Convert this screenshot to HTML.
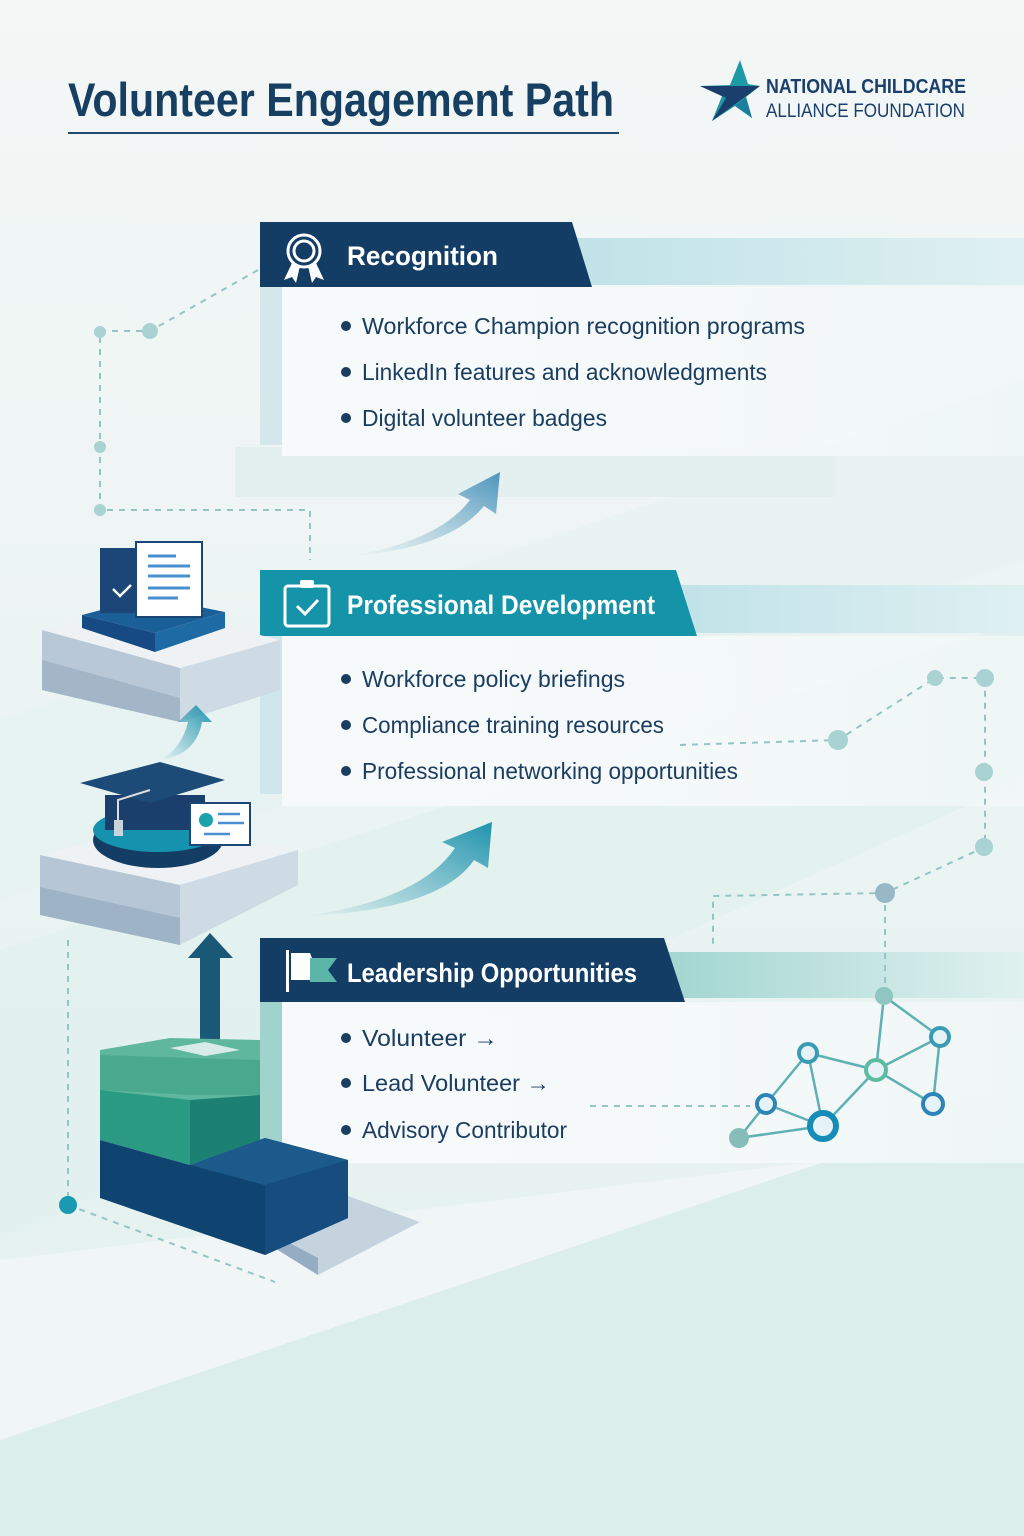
<!DOCTYPE html>
<html><head><meta charset="utf-8"><style>
html,body{margin:0;padding:0;width:1024px;height:1536px;overflow:hidden;background:#eef5f4}
svg{display:block}
text{font-family:"Liberation Sans",sans-serif}
</style></head><body>
<svg width="1024" height="1536" viewBox="0 0 1024 1536" xmlns="http://www.w3.org/2000/svg">
<defs>
<linearGradient id="bg" x1="0" y1="0" x2="0" y2="1"><stop offset="0" stop-color="#f3f7f6"/><stop offset="1" stop-color="#e3f1ef"/></linearGradient>
<linearGradient id="band" x1="0" y1="0" x2="1" y2="0"><stop offset="0" stop-color="#bfe2e8"/><stop offset="1" stop-color="#dff0f2"/></linearGradient>
<linearGradient id="band2" x1="0" y1="0" x2="1" y2="0"><stop offset="0" stop-color="#9ed4cf"/><stop offset="1" stop-color="#e0f1ef"/></linearGradient>
<linearGradient id="panel" x1="0" y1="0" x2="1" y2="0"><stop offset="0" stop-color="#f7fafa"/><stop offset="0.6" stop-color="#f5f9f9" stop-opacity="0.95"/><stop offset="1" stop-color="#f2f8f8" stop-opacity="0.7"/></linearGradient>
<linearGradient id="arr" x1="0" y1="1" x2="1" y2="0"><stop offset="0" stop-color="#7fb6cf" stop-opacity="0"/><stop offset="1" stop-color="#4f95bd"/></linearGradient>
<linearGradient id="arr2" x1="0" y1="1" x2="1" y2="0"><stop offset="0" stop-color="#3ba0b7" stop-opacity="0"/><stop offset="1" stop-color="#1f93ad"/></linearGradient>
</defs>
<rect width="1024" height="1536" fill="url(#bg)"/>
<polygon points="0,720 1024,380 1024,560 0,900" fill="#e6f2f1" opacity="0.7"/>
<polygon points="0,950 1024,620 1024,780 0,1240" fill="#dff0ee" opacity="0.7"/>
<polygon points="0,1260 830,1160 1024,1160 1024,1536 0,1536" fill="#f0f6f5"/>
<polygon points="0,1440 830,1160 1024,1160 1024,1536 0,1536" fill="#dbeeeb"/>

<text x="68" y="116" font-size="47" font-weight="bold" fill="#163f62" textLength="546" lengthAdjust="spacingAndGlyphs">Volunteer Engagement Path</text>
<rect x="68" y="132" width="551" height="2" fill="#1e4a6e"/>
<!-- logo star -->
<polygon points="740,60 748,84 760,86 746,97 752,118 735,106 712,121 722,96 700,86 730,85" fill="#1e9aa7"/>
<polygon points="700,86 760,86 712,121 726,98" fill="#1a3f6c"/>
<polygon points="746,97 752,118 735,106" fill="#1d7fa0"/>
<text x="766" y="93" font-size="20" font-weight="bold" fill="#1a3f6c" textLength="200" lengthAdjust="spacingAndGlyphs">NATIONAL CHILDCARE</text>
<text x="766" y="117" font-size="19" fill="#1a3f6c" textLength="199" lengthAdjust="spacingAndGlyphs">ALLIANCE FOUNDATION</text>

<!-- Recognition -->
<rect x="235" y="447" width="600" height="50" fill="#e4efef"/>
<rect x="560" y="238" width="464" height="47" fill="url(#band)"/>
<rect x="260" y="287" width="24" height="158" fill="#d4e8ec"/>
<rect x="282" y="287" width="742" height="169" fill="url(#panel)"/>
<polygon points="260,222 572,222 592,287 260,287" fill="#133d65"/>
<g fill="none" stroke="#fff" stroke-width="3"><circle cx="304" cy="251" r="16"/><circle cx="304" cy="251" r="10"/></g>
<polygon points="292,263 284,280 292,277 296,283 300,266" fill="#fff"/>
<polygon points="316,263 324,280 316,277 312,283 308,266" fill="#fff"/>
<text x="347" y="265" font-size="27" font-weight="bold" fill="#fff" textLength="151" lengthAdjust="spacingAndGlyphs">Recognition</text>
<g font-size="23" fill="#1a3d60">
<circle cx="346" cy="326" r="5" fill="#1a3d60"/><text x="362" y="334" textLength="443" lengthAdjust="spacingAndGlyphs">Workforce Champion recognition programs</text>
<circle cx="346" cy="372" r="5" fill="#1a3d60"/><text x="362" y="380" textLength="405" lengthAdjust="spacingAndGlyphs">LinkedIn features and acknowledgments</text>
<circle cx="346" cy="418" r="5" fill="#1a3d60"/><text x="362" y="426" textLength="245" lengthAdjust="spacingAndGlyphs">Digital volunteer badges</text>
</g>
<path d="M352,556 Q440,540 470,500 L458,494 L500,472 L496,514 L484,506 Q450,548 352,556Z" fill="url(#arr)"/>

<!-- Professional Development -->
<rect x="660" y="585" width="364" height="48" fill="url(#band)"/>
<rect x="260" y="636" width="24" height="158" fill="#cfe6ea"/>
<rect x="282" y="636" width="742" height="170" fill="url(#panel)"/>
<polygon points="260,570 676,570 697,636 260,636" fill="#1593a9"/>
<g fill="none" stroke="#fff" stroke-width="3"><rect x="285" y="586" width="44" height="40" rx="3"/><polyline points="297,606 305,614 318,600"/></g>
<rect x="300" y="580" width="14" height="8" rx="2" fill="#fff"/>
<text x="347" y="614" font-size="27" font-weight="bold" fill="#fff" textLength="308" lengthAdjust="spacingAndGlyphs">Professional Development</text>
<g font-size="23" fill="#1a3d60">
<circle cx="346" cy="679" r="5" fill="#1a3d60"/><text x="362" y="687" textLength="263" lengthAdjust="spacingAndGlyphs">Workforce policy briefings</text>
<circle cx="346" cy="725" r="5" fill="#1a3d60"/><text x="362" y="733" textLength="302" lengthAdjust="spacingAndGlyphs">Compliance training resources</text>
<circle cx="346" cy="771" r="5" fill="#1a3d60"/><text x="362" y="779" textLength="376" lengthAdjust="spacingAndGlyphs">Professional networking opportunities</text>
</g>
<path d="M305,916 Q420,900 455,848 L442,842 L492,822 L488,868 L474,860 Q440,910 305,916Z" fill="url(#arr2)"/>

<!-- Leadership -->
<rect x="640" y="952" width="384" height="46" fill="url(#band2)"/>
<rect x="260" y="1002" width="24" height="158" fill="#9fd3cc"/>
<rect x="282" y="1002" width="742" height="161" fill="url(#panel)"/>
<polygon points="260,938 664,938 685,1002 260,1002" fill="#133d65"/>
<rect x="286" y="950" width="3" height="42" fill="#fff"/>
<path d="M291,953 L310,953 L312,958 L312,980 L291,980Z" fill="#fff"/>
<polygon points="310,958 337,958 328,970 337,982 310,982" fill="#5bb5a9"/>
<text x="347" y="982" font-size="27" font-weight="bold" fill="#fff" textLength="290" lengthAdjust="spacingAndGlyphs">Leadership Opportunities</text>
<g font-size="23" fill="#1a3d60">
<circle cx="346" cy="1038" r="5" fill="#1a3d60"/><text x="362" y="1046" textLength="136" lengthAdjust="spacingAndGlyphs">Volunteer →</text>
<circle cx="346" cy="1083" r="5" fill="#1a3d60"/><text x="362" y="1091" textLength="188" lengthAdjust="spacingAndGlyphs">Lead Volunteer →</text>
<circle cx="346" cy="1130" r="5" fill="#1a3d60"/><text x="362" y="1138" textLength="205" lengthAdjust="spacingAndGlyphs">Advisory Contributor</text>
</g>

<!-- dotted connectors (on top of panels) -->
<g stroke="#95c4c6" stroke-width="2" stroke-dasharray="6,6" fill="none">
<polyline points="258,270 150,331 100,331 100,510 310,510 310,560"/>
<polyline points="680,745 838,740 935,678 985,678 985,847 885,893 713,896 713,945"/>
<line x1="885" y1="893" x2="885" y2="995"/>
<line x1="68" y1="940" x2="68" y2="1205"/>
<polyline points="68,1205 275,1282"/>
<line x1="590" y1="1106" x2="750" y2="1106"/>
</g>
<g fill="#a9d2d3"><circle cx="100" cy="332" r="6"/><circle cx="150" cy="331" r="8"/><circle cx="100" cy="447" r="6"/><circle cx="100" cy="510" r="6"/>
<circle cx="838" cy="740" r="10"/><circle cx="935" cy="678" r="8"/><circle cx="985" cy="678" r="9"/><circle cx="984" cy="772" r="9"/><circle cx="984" cy="847" r="9"/></g>
<circle cx="885" cy="893" r="10" fill="#97b8c7"/>
<circle cx="68" cy="1205" r="9" fill="#1a9ab0"/>

<!-- network -->
<g stroke="#5fb0b5" stroke-width="2.5">
<line x1="884" y1="996" x2="876" y2="1070"/><line x1="884" y1="996" x2="940" y2="1037"/>
<line x1="808" y1="1053" x2="876" y2="1070"/><line x1="808" y1="1053" x2="766" y2="1104"/><line x1="808" y1="1053" x2="823" y2="1126"/>
<line x1="876" y1="1070" x2="940" y2="1037"/><line x1="876" y1="1070" x2="933" y2="1104"/><line x1="876" y1="1070" x2="823" y2="1126"/>
<line x1="940" y1="1037" x2="933" y2="1104"/><line x1="766" y1="1104" x2="823" y2="1126"/><line x1="766" y1="1104" x2="739" y2="1138"/><line x1="739" y1="1138" x2="823" y2="1126"/>
</g>
<circle cx="884" cy="996" r="9" fill="#8fc6c2"/>
<circle cx="739" cy="1138" r="10" fill="#86bdb8"/>
<g stroke-width="4" fill="#e6f3f6">
<circle cx="808" cy="1053" r="9" stroke="#3c9bb4"/><circle cx="940" cy="1037" r="9" stroke="#3c9bb4"/>
<circle cx="876" cy="1070" r="10" stroke="#5dbb9f"/><circle cx="766" cy="1104" r="9" stroke="#2d84b8"/>
<circle cx="933" cy="1104" r="10" stroke="#2d84b8"/><circle cx="823" cy="1126" r="13" stroke="#168cb8" stroke-width="6"/>
</g>

<!-- platform 1 -->
<polygon points="42,630 140,605 280,640 180,668" fill="#eef2f4"/>
<polygon points="42,630 180,668 180,722 42,690" fill="#b8c8d6"/>
<polygon points="180,668 280,640 280,690 180,722" fill="#cfdbe4"/>
<polygon points="42,660 180,698 180,722 42,690" fill="#a2b6c8"/>
<polygon points="82,615 150,597 225,612 155,633" fill="#1b5f98"/>
<polygon points="82,615 155,633 155,652 82,628" fill="#164a82"/>
<polygon points="155,633 225,612 225,628 155,652" fill="#1e6aa4"/>
<rect x="100" y="548" width="40" height="65" fill="#1b4677"/>
<polyline points="113,589 120,596 131,585" stroke="#fff" stroke-width="2.5" fill="none"/>
<rect x="136" y="542" width="66" height="75" fill="#fff" stroke="#1b4677" stroke-width="2"/>
<g stroke="#4a8fd0" stroke-width="3"><line x1="148" y1="556" x2="176" y2="556"/><line x1="148" y1="566" x2="190" y2="566"/><line x1="148" y1="576" x2="190" y2="576"/><line x1="148" y1="588" x2="190" y2="588"/><line x1="148" y1="598" x2="178" y2="598"/></g>
<path d="M160,760 Q182,748 188,722 L178,722 L196,705 L212,722 L202,722 Q196,755 160,760Z" fill="url(#arr2)"/>

<!-- platform 2 -->
<polygon points="40,855 160,825 298,850 180,885" fill="#eef2f4"/>
<polygon points="40,855 180,885 180,945 40,915" fill="#b6c6d4"/>
<polygon points="180,885 298,850 298,885 180,945" fill="#cfdbe4"/>
<polygon points="40,887 180,918 180,945 40,915" fill="#9fb3c7"/>
<ellipse cx="158" cy="840" rx="65" ry="28" fill="#133d65"/>
<ellipse cx="158" cy="830" rx="65" ry="22" fill="#1592ad"/>
<rect x="105" y="795" width="100" height="35" fill="#1a3f6c"/>
<polygon points="80,783 160,762 225,780 150,803" fill="#1c4b78"/>
<path d="M150,790 L118,800 L118,828" stroke="#ddd" stroke-width="2" fill="none"/>
<rect x="114" y="820" width="9" height="16" fill="#c9d5dd"/>
<rect x="190" y="803" width="60" height="42" fill="#fff" stroke="#1b4677" stroke-width="2"/>
<circle cx="206" cy="820" r="7" fill="#1aa3ad"/>
<g stroke="#4a8fd0" stroke-width="2.5"><line x1="218" y1="814" x2="240" y2="814"/><line x1="218" y1="823" x2="244" y2="823"/><line x1="204" y1="834" x2="230" y2="834"/></g>
<polygon points="200,1048 200,958 188,958 210,933 233,958 220,958 220,1048" fill="#1a5878"/>

<!-- stairs bottom -->
<polygon points="265,1242 345,1195 420,1222 318,1275" fill="#c5d3de"/>
<polygon points="265,1242 318,1275 318,1258 265,1230" fill="#94adc2"/>
<polygon points="100,1050 170,1038 260,1040 260,1130 100,1130" fill="#5fb89e"/>
<polygon points="100,1055 260,1060 260,1095 190,1095 100,1090" fill="#4aa88e"/>
<polygon points="100,1090 190,1100 190,1165 100,1140" fill="#2a9a82"/>
<polygon points="190,1100 260,1095 260,1140 190,1165" fill="#1c8172"/>
<polygon points="100,1140 190,1165 265,1138 348,1160 348,1218 265,1255 100,1198" fill="#0f4470"/>
<polygon points="190,1165 265,1138 348,1160 265,1185" fill="#1b5a8a"/>
<polygon points="265,1185 348,1160 348,1218 265,1255" fill="#164d7e"/>
<polygon points="170,1048 205,1042 240,1050 205,1056" fill="#d8ebe6"/>
</svg>
</body></html>
